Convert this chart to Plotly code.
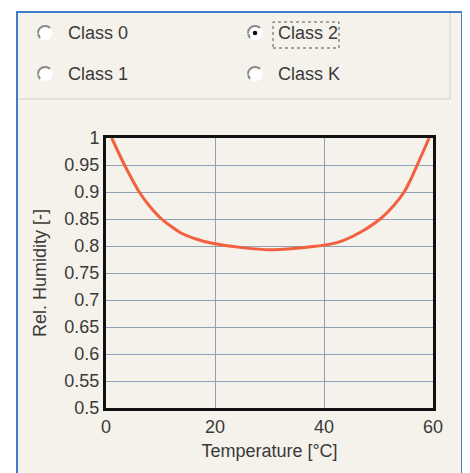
import plotly.graph_objects as go

# ---- data ----
temperature = [1.05, 2.2, 3.4, 4.7, 6.1, 7.9, 10.2, 13.6, 16.5, 19.5, 25, 30,
               35, 38, 41, 43.5, 46.6, 50.3, 52.8, 54.7, 56, 57.1, 58.2, 59.3]
rel_humidity = [1.0, 0.975, 0.95, 0.925, 0.9, 0.875, 0.85, 0.825, 0.813, 0.805,
                0.797, 0.793, 0.796, 0.799, 0.803, 0.81, 0.825, 0.85, 0.875,
                0.9, 0.925, 0.95, 0.975, 1.0]
x_ticks = [0, 20, 40, 60]
y_ticks = [0.5, 0.55, 0.6, 0.65, 0.7, 0.75, 0.8, 0.85, 0.9, 0.95, 1.0]
y_tick_labels = ["0.5", "0.55", "0.6", "0.65", "0.7", "0.75", "0.8", "0.85",
                 "0.9", "0.95", "1"]
class_labels = ["Class 0", "Class 1", "Class 2", "Class K"]
selected_class = "Class 2"

# ---- layout geometry (window pixels; page body has an 8px margin) ----
OFF = 8
FW, FH = 470 - OFF, 473 - OFF
PL, PT, PR, PB = 106, 138, 433, 408          # plot area in window pixels
L, T = PL - OFF, PT - OFF
PW, PH = PR - PL, PB - PT
R, B = FW - L - PW, FH - T - PH


def px(X):
    return (X - PL) / PW


def py(Y):
    return (PB - Y) / PH


CREAM = "#f4f2ea"
TEXT = "#3a3a3a"
FONT = "Liberation Sans, Arial, sans-serif"

fig = go.Figure()
fig.add_trace(go.Scatter(x=temperature, y=rel_humidity, mode="lines",
                         line=dict(color="#f2603f", width=3, shape="spline",
                                   smoothing=0.6),
                         hoverinfo="skip", showlegend=False))

shapes = []
# outer panel
shapes.append(dict(type="rect", xref="paper", yref="paper", layer="below",
                   x0=px(17), x1=px(462), y0=py(485), y1=py(12),
                   fillcolor=CREAM, line=dict(color="#3f7ccc", width=2)))
# radio group separator lines
shapes.append(dict(type="line", xref="paper", yref="paper",
                   x0=px(18), x1=px(450), y0=py(99), y1=py(99),
                   line=dict(color="#d3d0c6", width=1)))
shapes.append(dict(type="line", xref="paper", yref="paper",
                   x0=px(450), x1=px(450), y0=py(13), y1=py(99),
                   line=dict(color="#d3d0c6", width=1)))

annotations = []
positions = {"Class 0": (45, 33), "Class 1": (45, 74),
             "Class 2": (255, 33), "Class K": (255, 74)}
r = 7
for lab in class_labels:
    cx, cy = positions[lab]
    shapes.append(dict(type="circle", xref="paper", yref="paper",
                       x0=px(cx - r), x1=px(cx + r), y0=py(cy + r), y1=py(cy - r),
                       fillcolor="#ffffff", line=dict(color="#ffffff", width=1)))
    # shaded upper-left arc
    k = 0.5523 * r
    path = (f"M {px(cx - r*0.71)},{py(cy + r*0.71)} "
            f"C {px(cx - r*1.0)},{py(cy + r*0.4)} {px(cx - r)},{py(cy - k*0.3)} {px(cx - r)},{py(cy)} "
            f"C {px(cx - r)},{py(cy - k)} {px(cx - k)},{py(cy - r)} {px(cx)},{py(cy - r)} "
            f"C {px(cx + r*0.4)},{py(cy - r)} {px(cx + r*0.6)},{py(cy - r*0.9)} {px(cx + r*0.71)},{py(cy - r*0.71)}")
    shapes.append(dict(type="path", xref="paper", yref="paper", path=path,
                       line=dict(color="#8a8a86", width=2)))
    if lab == selected_class:
        shapes.append(dict(type="circle", xref="paper", yref="paper",
                           x0=px(cx - 2.3), x1=px(cx + 2.3), y0=py(cy + 2.3), y1=py(cy - 2.3),
                           fillcolor="#111111", line=dict(color="#111111", width=0)))
        shapes.append(dict(type="rect", xref="paper", yref="paper",
                           x0=px(cx + 18), x1=px(cx + 84), y0=py(cy + 15), y1=py(cy - 11),
                           line=dict(color="#555555", width=1, dash="dot")))
    annotations.append(dict(xref="paper", yref="paper", x=px(cx + 21), y=py(cy),
                            xanchor="left", yanchor="middle", text=lab, showarrow=False,
                            font=dict(family=FONT, size=18, color=TEXT)))

fig.update_layout(
    width=FW, height=FH,
    margin=dict(l=L, r=R, t=T, b=B),
    paper_bgcolor="#ffffff",
    plot_bgcolor=CREAM,
    shapes=shapes,
    annotations=annotations,
    font=dict(family=FONT, size=18, color=TEXT),
    xaxis=dict(range=[0, 60], tickvals=x_ticks, showgrid=True,
               gridcolor="#8fa1b6", gridwidth=1, zeroline=False,
               showline=True, linecolor="#111111", linewidth=3, mirror=True,
               ticks="", tickfont=dict(size=18, color=TEXT),
               title=dict(text="Temperature [°C]", standoff=9,
                          font=dict(size=18, color=TEXT))),
    yaxis=dict(range=[0.5, 1.0], tickvals=y_ticks, ticktext=y_tick_labels,
               showgrid=True, gridcolor="#8fa1b6", gridwidth=1, zeroline=False,
               showline=True, linecolor="#111111", linewidth=3, mirror=True,
               ticks="", tickfont=dict(size=18, color=TEXT),
               title=dict(text="Rel. Humidity [-]", standoff=14,
                          font=dict(size=18, color=TEXT))),
)

fig.write_html("out.html")
